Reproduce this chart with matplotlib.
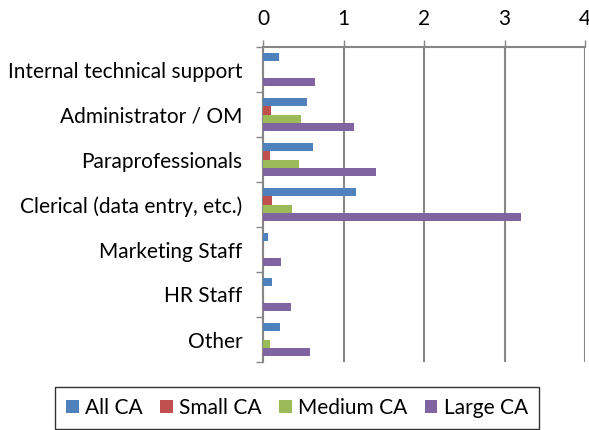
import matplotlib.pyplot as plt
import numpy as np

categories = ['Internal technical support', 'Administrator / OM', 'Paraprofessionals',
              'Clerical (data entry, etc.)', 'Marketing Staff', 'HR Staff', 'Other']
series_names = ['All CA', 'Small CA', 'Medium CA', 'Large CA']
all_ca = [0.20, 0.55, 0.62, 1.16, 0.06, 0.11, 0.21]
small_ca = [0.0, 0.10, 0.09, 0.11, 0.0, 0.0, 0.0]
medium_ca = [0.0, 0.47, 0.45, 0.36, 0.0, 0.0, 0.09]
large_ca = [0.64, 1.13, 1.40, 3.21, 0.22, 0.35, 0.58]
colors = ['#4F81BD', '#C0504D', '#9BBB59', '#8064A2']

plt.rcParams['font.family'] = ['Lato', 'DejaVu Sans']

fig = plt.figure(figsize=(5.89, 4.30), dpi=100)
ax = fig.add_axes([263 / 589, 1 - 362 / 430, 322 / 589, 315 / 430])

y = np.arange(len(categories))
h = 0.178
for i, (vals, name, c) in enumerate(zip([all_ca, small_ca, medium_ca, large_ca], series_names, colors)):
    ax.barh(y + (i - 1.5) * h, vals, height=h, color=c, label=name, zorder=3)

ax.set_xlim(0, 4)
ax.set_ylim(len(categories) - 0.5, -0.5)
ax.set_xticks([0, 1, 2, 3, 4])
ax.xaxis.tick_top()
ax.tick_params(axis='x', length=5, width=1, color='#868686', labelsize=15, pad=8)
ax.set_yticks(y)
ax.set_yticklabels(categories)
ax.tick_params(axis='y', length=0, labelsize=15, pad=15)
ax.set_yticks(np.arange(len(categories) + 1) - 0.5, minor=True)
ax.tick_params(axis='y', which='minor', length=5, width=1, color='#868686')
ax.grid(axis='x', color='#868686', linewidth=1.5, zorder=0)
for s in ['right', 'bottom']:
    ax.spines[s].set_visible(False)
for s in ['left', 'top']:
    ax.spines[s].set_color('#868686')
    ax.spines[s].set_linewidth(1.5)

leg = fig.legend(loc='center', bbox_to_anchor=(297 / 589, 1 - 408 / 430), ncol=4,
                 fontsize=15, frameon=True, fancybox=False, edgecolor='black',
                 handlelength=0.6, handleheight=0.6, handletextpad=0.3, columnspacing=0.85,
                 borderpad=0.55, borderaxespad=0)
leg.get_frame().set_linewidth(1.0)

fig.savefig('out.png', dpi=100)
